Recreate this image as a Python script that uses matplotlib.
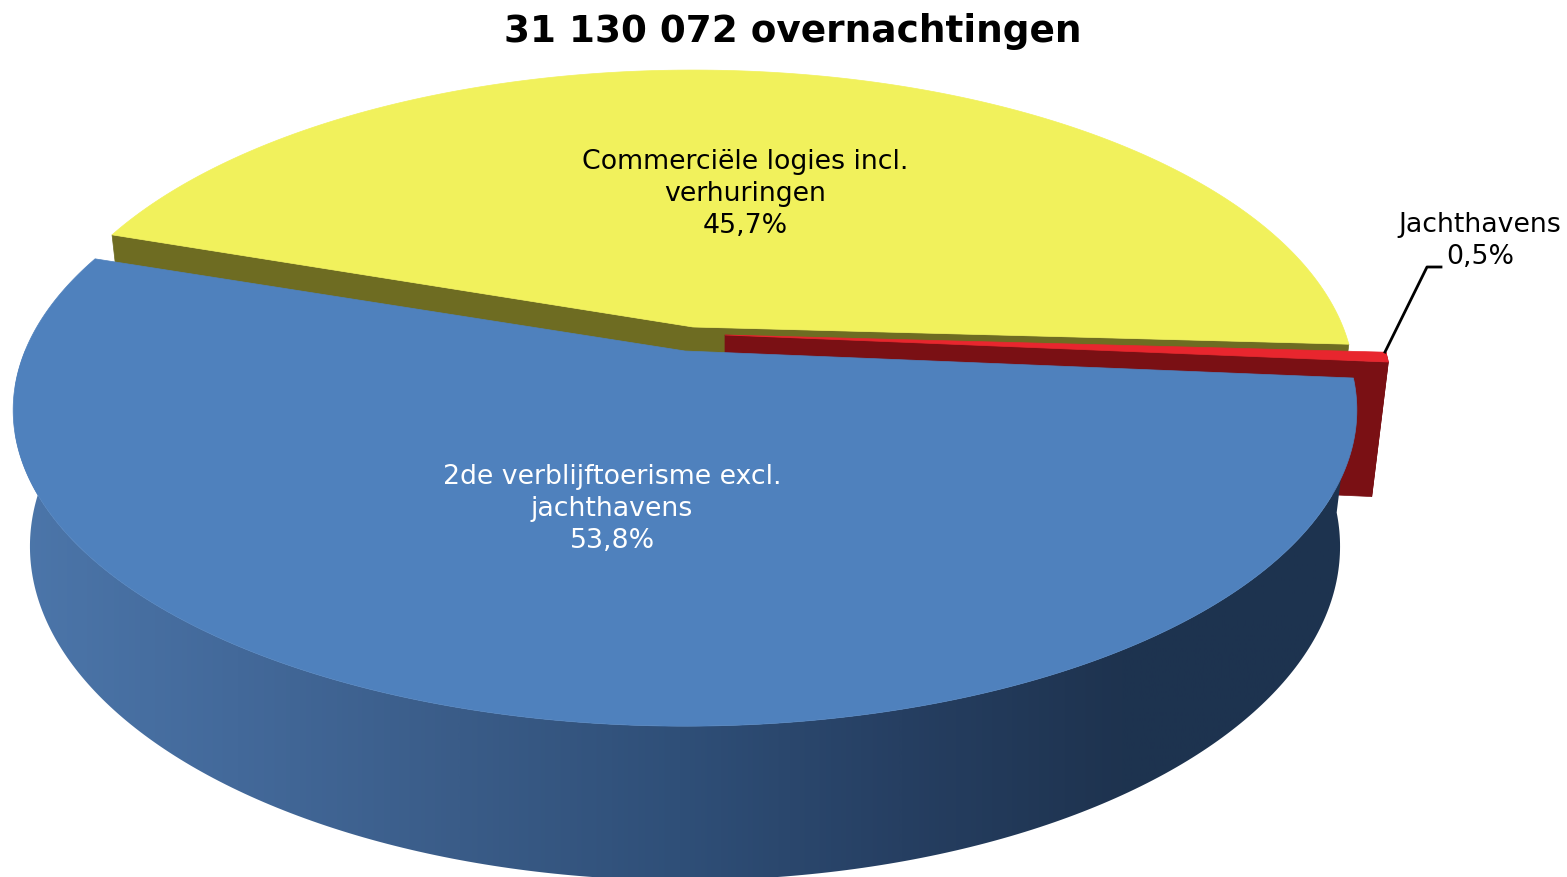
import numpy as np
import matplotlib
matplotlib.use("Agg")
import matplotlib.pyplot as plt
from matplotlib.colors import LinearSegmentedColormap
from matplotlib.patches import Polygon

title = "31 130 072 overnachtingen"
labels = ["2de verblijftoerisme excl.\njachthavens\n53,8%",
          "Commerciële logies incl.\nverhuringen\n45,7%",
          "Jachthavens\n0,5%"]
shares = [53.8, 45.7, 0.5]

START_ANGLE = 5.0     # screen clockwise from 3 o'clock
PERSP = 0.187         # front of the disc looks bigger than the back
RY = 305.0
DEPTH = 133.0
BOTTOM_SCALE = 0.975

angles = START_ANGLE + np.concatenate([[0], np.cumsum(shares)]) * 3.6


def project(ax_x, ax_y, rx, theta):
    t = np.radians(theta)
    f = 1 / (1 - PERSP * np.sin(t))
    return ax_x + rx * np.cos(t) * f, ax_y + RY * np.sin(t) * f


def lower(ax_x, ax_y, rx, theta):
    # same point on the underside of the slab
    x, y = project(ax_x, ax_y, rx, theta)
    f = 1 / (1 - PERSP * np.sin(np.radians(theta)))
    return ax_x + (x - ax_x) * BOTTOM_SCALE, ax_y + (y - ax_y) * BOTTOM_SCALE + DEPTH * f


def top_poly(ax_x, ax_y, rx, a0, a1, color, zorder):
    th = np.linspace(a0, a1, 300)
    x, y = project(ax_x, ax_y, rx, th)
    xy = np.column_stack([np.r_[ax_x, x], np.r_[ax_y, y]])
    ax.add_patch(Polygon(xy, closed=True, fc=color, ec=color, lw=0.5, zorder=zorder))


def radial_wall(ax_x, ax_y, rx, theta, color, zorder):
    x, y = project(ax_x, ax_y, rx, theta)
    xb, yb = lower(ax_x, ax_y, rx, theta)
    xy = [(ax_x, ax_y), (x, y), (xb, yb), (ax_x, ax_y + DEPTH)]
    ax.add_patch(Polygon(xy, closed=True, fc=color, ec=color, lw=0.5, zorder=zorder))


def outer_wall_xy(ax_x, ax_y, rx, a0, a1):
    th = np.linspace(a0, a1, 300)
    x, y = project(ax_x, ax_y, rx, th)
    xb, yb = lower(ax_x, ax_y, rx, th)
    return np.column_stack([np.r_[x, xb[::-1]], np.r_[y, yb[::-1]]])


fig = plt.figure(figsize=(15.67, 8.77), dpi=100)
ax = fig.add_axes([0, 0, 1, 1])
ax.set_axis_off()

# yellow slice, back
yel = (693, 327, 650)
radial_wall(*yel, angles[1], "#6e6c22", 1)
radial_wall(*yel, angles[2], "#6e6c22", 1)
top_poly(*yel, angles[1], angles[2], "#f1f15c", 2)

# red slice, pulled out to the right
red = (725, 335, 655)
ax.add_patch(Polygon(outer_wall_xy(*red, angles[2], angles[3]), closed=True,
                     fc="#7a1014", ec="#7a1014", lw=0.5, zorder=3))
radial_wall(*red, angles[3], "#7a1014", 3)
top_poly(*red, angles[2], angles[3], "#e8262e", 4)

# blue slice, front
blue = (685, 351, 660)
wall = Polygon(outer_wall_xy(*blue, angles[0], angles[1]), closed=True,
               fc="none", ec="none", zorder=5)
ax.add_patch(wall)
shade = LinearSegmentedColormap.from_list(
    "shade", ["#4c76aa", "#43699a", "#3a5c88", "#2f4f78", "#263f62", "#1e334f", "#1d3350"])
im = ax.imshow(np.linspace(0, 1, 512)[None, :], cmap=shade, extent=(15, 1345, 900, 350),
               aspect="auto", zorder=5)
im.set_clip_path(wall)
top_poly(*blue, angles[0], angles[1], "#4f81bd", 6)

# leader line of the small slice
ax.plot([1385, 1427, 1441], [352, 267, 267], color="black", lw=2, zorder=7)

ax.set_xlim(0, 1567)
ax.set_ylim(877, 0)

FS = 19.3
ax.text(793, 32, title, ha="center", va="center", fontsize=26.9, fontweight="bold", color="black")
ax.text(612, 509, labels[0], ha="center", va="center", fontsize=FS, color="white",
        linespacing=1.29, zorder=8)
ax.text(745, 194, labels[1], ha="center", va="center", fontsize=FS, color="black",
        linespacing=1.29, zorder=8)
ax.text(1480, 241, labels[2], ha="center", va="center", fontsize=FS, color="black",
        linespacing=1.29, zorder=8)

fig.savefig("out.png", dpi=100, facecolor="white")
